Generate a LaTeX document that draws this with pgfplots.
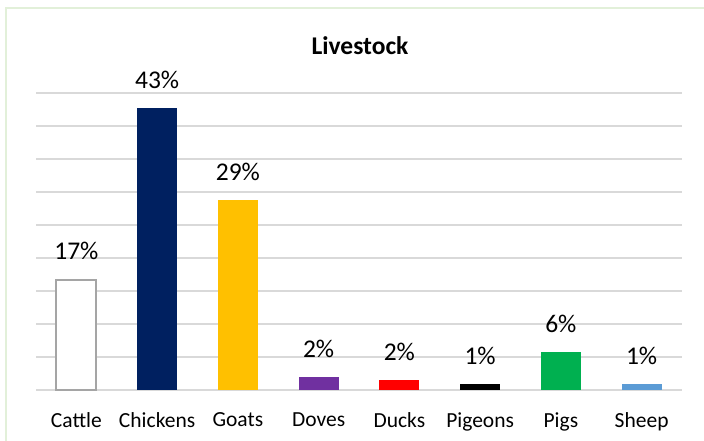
\documentclass[border=0pt]{standalone}
\usepackage{pgfplots}
\pgfplotsset{compat=1.18}
\usepackage{fontspec}
\setmainfont{Carlito}
\definecolor{framegreen}{HTML}{E2F0D9}
\definecolor{gridgray}{HTML}{D9D9D9}
\definecolor{cattleedge}{HTML}{A5A5A5}
\definecolor{cnavy}{HTML}{002060}
\definecolor{cgold}{HTML}{FFC000}
\definecolor{cpurple}{HTML}{7030A0}
\definecolor{cred}{HTML}{FF0000}
\definecolor{cgreen}{HTML}{00B050}
\definecolor{cblue}{HTML}{5B9BD5}
\begin{document}
\begin{tikzpicture}[x=1pt,y=1pt]
\useasboundingbox (0,0) rectangle (704,441);
\draw[color=framegreen, line width=2pt] (6,-5) -- (6,433) -- (712,433);
\node[font=\bfseries\fontsize{25.5}{30}\selectfont] at (360,395) {Livestock};
\begin{axis}[
  at={(36pt,51pt)}, anchor=south west,
  scale only axis, width=646pt, height=297pt,
  xmin=-0.5, xmax=7.5, ymin=0, ymax=45,
  axis line style={draw=none},
  ytick={0,5,...,45}, yticklabels={},
  ymajorgrids, grid style={color=gridgray, line width=1.3pt},
  major tick length=0pt,
  xtick={0,1,...,7},
  xticklabels={Cattle,Chickens,Goats,Doves,Ducks,Pigeons,Pigs,Sheep},
  xticklabel style={font=\fontsize{21.5}{26}\selectfont, yshift=-19pt},
  point meta=explicit symbolic,
  nodes near coords,
  every node near coord/.append style={font=\fontsize{25.5}{30}\selectfont, text=black, yshift=16pt},
  clip=false,
]
\addplot[ybar, bar width=40pt, fill=white, draw=cattleedge, line width=2pt] coordinates {(0,16.6) [17\%]};
\addplot[ybar, bar width=40pt, fill=cnavy, draw=none] coordinates {(1,42.7) [43\%]};
\addplot[ybar, bar width=40pt, fill=cgold, draw=none] coordinates {(2,28.8) [29\%]};
\addplot[ybar, bar width=40pt, fill=cpurple, draw=none] coordinates {(3,2.0) [2\%]};
\addplot[ybar, bar width=40pt, fill=cred, draw=none] coordinates {(4,1.5) [2\%]};
\addplot[ybar, bar width=40pt, fill=black, draw=none] coordinates {(5,0.9) [1\%]};
\addplot[ybar, bar width=40pt, fill=cgreen, draw=none] coordinates {(6,5.7) [6\%]};
\addplot[ybar, bar width=40pt, fill=cblue, draw=none] coordinates {(7,0.9) [1\%]};
\end{axis}
\end{tikzpicture}
\end{document}
